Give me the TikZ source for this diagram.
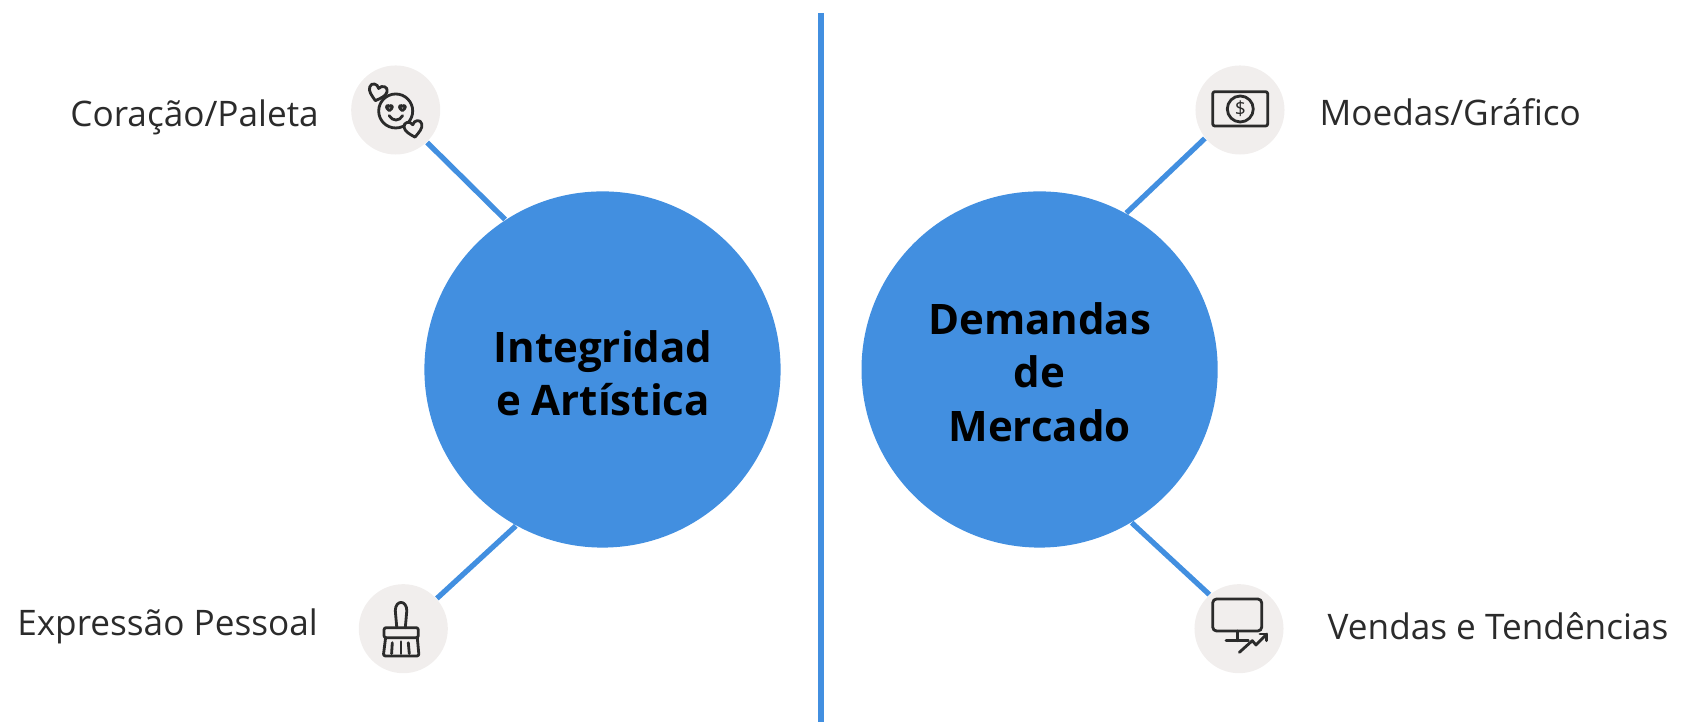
\documentclass[tikz,border=0pt]{standalone}
\usepackage{fontspec}
\setmainfont{Open Sans}
\usetikzlibrary{positioning}

\definecolor{lineblue}{HTML}{428FE0}
\definecolor{iconback}{HTML}{F1EEED}
\definecolor{labelgray}{HTML}{2B2B2B}

\tikzset{
  bigcircle/.style={circle, fill=lineblue, minimum size=3.56cm, inner sep=0pt},
  bigtitle/.style={inner sep=0pt, align=center, text=black,
    font=\fontsize{11.95}{15.2}\selectfont\bfseries},
  iconcircle/.style={circle, fill=iconback, minimum size=0.89cm, inner sep=0pt},
  sidelabel/.style={inner sep=0pt, text=labelgray, font=\fontsize{10}{12}\selectfont},
  link/.style={draw=lineblue, line width=1.5pt},
  iconline/.style={draw=labelgray, line width=0.8pt, line join=round, line cap=round},
  pics/heart/.style={code={
    \draw[iconline, fill=iconback] (0,-10) .. controls (-6,-5) and (-10,-2) .. (-10,3)
      .. controls (-10,9) and (-2,9) .. (0,4)
      .. controls (2,9) and (10,9) .. (10,3)
      .. controls (10,-2) and (6,-5) .. (0,-10) -- cycle;
  }}
}

\begin{document}
\begin{tikzpicture}[x=0.01cm, y=0.01cm]
\useasboundingbox (0,0) rectangle (1684,722);

% Divider
\coordinate (divtop) at (821,709);
\coordinate (divbot) at (821,0);
\draw[lineblue, line width=1.75pt] (divtop) -- (divbot);

% Main circles
\node[bigcircle] (integ) at (602.5,352.5) {};
\node[bigcircle] (deman) at (1039.6,352.5) {};
\node[bigtitle] (integtitle) at (603,349) {Integridad\\e Artística};
\node[bigtitle] (demantitle) at (1039.6,350) {Demandas\\de\\Mercado};

% Icon backgrounds
\node[iconcircle] (iconheart) at (395.7,612) {};
\node[iconcircle] (iconbrush) at (403.3,93.3) {};
\node[iconcircle] (iconcash) at (1240,612) {};
\node[iconcircle] (iconscreen) at (1239,93.3) {};

% Connectors
\draw[link] (integ.123) -- (iconheart.-46);
\draw[link] (integ.241) -- (iconbrush.42);
\draw[link] (deman.61) -- (iconcash.219.5);
\draw[link] (deman.-59) -- (iconscreen.131.7);

% Labels
\node[sidelabel, anchor=east] (labheart) at (319.5,605) {Coração/Paleta};
\node[sidelabel, anchor=east] (labbrush) at (318.5,96) {Expressão Pessoal};
\node[sidelabel, anchor=west] (labcash) at (1319,610) {Moedas/Gráfico};
\node[sidelabel, anchor=west] (labscreen) at (1327,96) {Vendas e Tendências};

% Smiley with hearts
\begin{scope}[shift={(iconheart)}]
  \draw[iconline] (0,-1) circle (17);
  \draw[iconline] (-6.5,-5.7) .. controls (-3,-11.5) and (3.5,-11.5) .. (7,-5.7);
  \pic[scale=0.3] at (-6.3,2.3) {heart};
  \pic[scale=0.3] at (6.7,2.3) {heart};
  \pic[rotate=-15, scale=0.9] at (-18,18) {heart};
  \pic[rotate=10, scale=0.9] at (17.7,-18.3) {heart};
\end{scope}

% Brush
\begin{scope}[shift={(iconbrush)}]
  \draw[iconline] (-6.5,1) -- (-8,18) .. controls (-8,29) and (3.5,29) .. (3.5,18) -- (2,1);
  \draw[iconline, rounded corners=0.6pt] (-19.3,1) rectangle (15,-9);
  \draw[iconline, rounded corners=0.6pt] (-17.7,-9) -- (-20,-27.3) -- (15.7,-27.3) -- (14,-9);
  \draw[iconline] (-11,-14) -- (-11.7,-25);
  \draw[iconline] (-2.3,-13) -- (-2.3,-25);
  \draw[iconline] (5,-14) -- (6,-25);
\end{scope}

% Banknote
\begin{scope}[shift={(iconcash)}]
  \draw[iconline, rounded corners=0.6pt] (-27.3,18.3) rectangle (27.7,-16);
  \draw[iconline] (0.3,1) circle (13);
  \node[inner sep=0pt, text=labelgray, font=\fontsize{5.5}{6}\selectfont] (dollar) at (0.3,1) {\$};
\end{scope}

% Monitor and trend
\begin{scope}[shift={(iconscreen)}]
  \draw[iconline, rounded corners=1.1pt] (-26.3,29.7) rectangle (22.7,-2.3);
  \draw[iconline] (-1.7,-2.3) -- (-1.7,-12);
  \draw[iconline] (-13,-12) -- (9.3,-12);
  \draw[iconline] (0.3,-23.7) -- (13.3,-12) -- (17,-16.3) -- (27.7,-5.3);
  \draw[iconline] (21,-5.3) -- (27.7,-5.3) -- (27.7,-12);
\end{scope}
\end{tikzpicture}
\end{document}
